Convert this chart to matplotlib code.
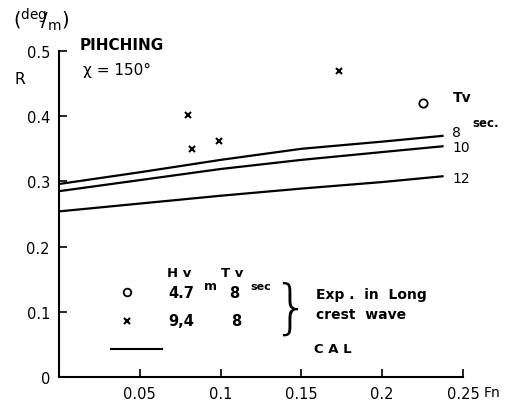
import numpy as np
import matplotlib.pyplot as plt

# calculated curves (CAL), one per wave period Tv
fn_cal = [0.0, 0.05, 0.1, 0.15, 0.2, 0.238]
r_tv8 = [0.296, 0.314, 0.333, 0.350, 0.361, 0.370]
r_tv10 = [0.285, 0.302, 0.319, 0.333, 0.345, 0.354]
r_tv12 = [0.254, 0.266, 0.278, 0.289, 0.299, 0.308]
tv_labels = ["8", "10", "12"]

# experiments in long crest wave
fn_exp_47 = [0.225]
r_exp_47 = [0.420]
fn_exp_94 = [0.080, 0.082, 0.099, 0.173]
r_exp_94 = [0.402, 0.350, 0.362, 0.469]

xticks = [0.05, 0.1, 0.15, 0.2, 0.25]
xticklabels = ["0.05", "0.1", "0.15", "0.2", "0.25"]
yticks = [0, 0.1, 0.2, 0.3, 0.4, 0.5]
yticklabels = ["0", "0.1", "0.2", "0.3", "0.4", "0.5"]

plt.rcParams['font.family'] = ['DejaVu Sans']

fig = plt.figure(figsize=(5.14, 4.02), dpi=100)
ax = fig.add_axes([59/514, 24/402, 404/514, 326/402])

for r in (r_tv8, r_tv10, r_tv12):
    ax.plot(fn_cal, r, color="black", lw=1.6, solid_capstyle="butt")

ax.plot(fn_exp_47, r_exp_47, "o", ms=6, mfc="none", mec="black", mew=1.3)
ax.plot(fn_exp_94, r_exp_94, "x", ms=5, color="black", mew=1.5)

ax.set_xlim(0, 0.25)
ax.set_ylim(0, 0.5)
ax.set_xticks(xticks)
ax.set_xticklabels(xticklabels)
ax.set_yticks(yticks)
ax.set_yticklabels(yticklabels)
ax.tick_params(direction="in", length=6, width=1.2, labelsize=10.5, pad=6.5)
for s in ("top", "right"):
    ax.spines[s].set_visible(False)
for s in ("left", "bottom"):
    ax.spines[s].set_linewidth(1.5)

# curve labels at the right
ends = [r_tv8[-1], r_tv10[-1], r_tv12[-1]]
offs = [0.008, 0.001, 0.0]
for lab, r, o in zip(tv_labels, ends, offs):
    ax.text(0.2435, r + o, lab, fontsize=10, va="center_baseline", ha="left")
ax.text(0.2435, 0.430, "Tv", fontsize=10, fontweight="bold", va="center")
ax.text(0.2555, 0.390, "sec.", fontsize=8.5, fontweight="bold", va="center")

# titles
fig.text(80/514, 1 - 45/402, "PIHCHING", fontsize=11, fontweight="bold", va="center")
fig.text(83/514, 1 - 70/402, "χ = 150°", fontsize=11, va="center")
fig.text(13/514, 1 - 20/402, r"$(^{\rm deg}\!\!/_{\rm m})$", fontsize=14, va="center")
fig.text(14/514, 1 - 80/402, "R", fontsize=11, va="center")
fig.text(484/514, 1 - 393/402, "Fn", fontsize=10, va="center")

# legend block
ax.text(0.067, 0.161, "H v", fontsize=9.5, fontweight="bold", va="center")
ax.text(0.100, 0.161, "T v", fontsize=9.5, fontweight="bold", va="center")
ax.plot([0.042], [0.130], "o", ms=5.5, mfc="none", mec="black", mew=1.3)
ax.plot([0.042], [0.086], "x", ms=5, color="black", mew=1.5)
ax.plot([0.032, 0.064], [0.043, 0.043], color="black", lw=1.5)
ax.text(0.0675, 0.130, "4.7", fontsize=10.5, fontweight="bold", va="center")
ax.text(0.0895, 0.140, "m", fontsize=9, fontweight="bold", va="center")
ax.text(0.1055, 0.130, "8", fontsize=10.5, fontweight="bold", va="center")
ax.text(0.1185, 0.140, "sec", fontsize=8, fontweight="bold", va="center")
ax.text(0.0675, 0.086, "9,4", fontsize=10.5, fontweight="bold", va="center")
ax.text(0.1065, 0.086, "8", fontsize=10.5, fontweight="bold", va="center")
ax.text(0.1435, 0.104, "}", fontsize=42, fontweight="light", va="center", ha="center")
ax.text(0.159, 0.128, "Exp .  in  Long", fontsize=10, fontweight="bold", va="center")
ax.text(0.159, 0.097, "crest  wave", fontsize=10, fontweight="bold", va="center")
ax.text(0.158, 0.043, "C A L", fontsize=9.5, fontweight="bold", va="center")

fig.savefig("out.png", dpi=100)
